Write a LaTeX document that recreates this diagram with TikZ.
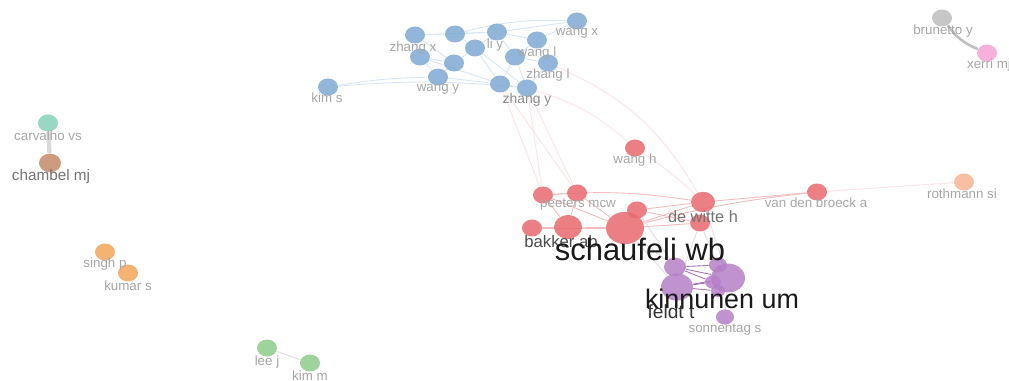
\documentclass[tikz,border=0pt]{standalone}
\usepackage{fontspec}
\setmainfont{Liberation Sans}
\usetikzlibrary{shapes.geometric}
\pgfdeclarelayer{edges}
\pgfsetlayers{edges,main}

\definecolor{cblue}{HTML}{7EA9D3}
\definecolor{cred}{HTML}{E8696E}
\definecolor{cpurple}{HTML}{B57FC8}
\definecolor{cteal}{HTML}{86D0B8}
\definecolor{cbrown}{HTML}{C48A68}
\definecolor{corange}{HTML}{F2A65A}
\definecolor{cpeach}{HTML}{F6B593}
\definecolor{cgreen}{HTML}{8DCB8A}
\definecolor{cgray}{HTML}{BDBDBD}
\definecolor{cpink}{HTML}{F3A2D6}
\definecolor{labgray}{HTML}{A6A6A6}

\tikzset{
  bub/.style 2 args={ellipse, fill=#1, fill opacity=.85, draw=none, inner sep=0,
    minimum width=#2*0.04cm, minimum height=#2*0.034cm},
  lab/.style={font=\fontsize{7.6}{8}\selectfont, text=labgray, inner sep=0},
  bedge/.style={draw=cblue!30, line width=.5pt},
  redge/.style={draw=cred!45, line width=.5pt},
  xedge/.style={draw=cred!16, line width=.6pt},
  pedge/.style={draw=cpurple!90!black, line width=.5pt},
  gedge/.style={draw=black!12, line width=.5pt}
}

\begin{document}
\begin{tikzpicture}[x=0.02cm, y=-0.02cm]
  \useasboundingbox (0,0) rectangle (1009,381);

  % blue cluster
  \node[bub={cblue}{10}] (zhangx) at (415,35) {};
  \node[bub={cblue}{10}] (b1) at (455,34) {};
  \node[bub={cblue}{10}] (liy) at (497,32) {};
  \node[bub={cblue}{10}] (wangx) at (577,21) {};
  \node[bub={cblue}{10}] (wangl) at (537,40) {};
  \node[bub={cblue}{10}] (b2) at (475,48) {};
  \node[bub={cblue}{10}] (b3) at (420,57) {};
  \node[bub={cblue}{10}] (b4) at (454,63) {};
  \node[bub={cblue}{10}] (b5) at (515,57) {};
  \node[bub={cblue}{10}] (zhangl) at (548,63) {};
  \node[bub={cblue}{10}] (wangy) at (438,77) {};
  \node[bub={cblue}{10}] (kims) at (328,87) {};
  \node[bub={cblue}{10}] (b6) at (500,84) {};
  \node[bub={cblue}{10}] (zhangy) at (527,88) {};

  % red cluster
  \node[bub={cred}{10}] (wangh) at (635,148) {};
  \node[bub={cred}{10}] (r1) at (543,195) {};
  \node[bub={cred}{10}] (peeters) at (577,193) {};
  \node[bub={cred}{10}] (r2) at (637,210) {};
  \node[bub={cred}{12}] (dewitte) at (703,202) {};
  \node[bub={cred}{10}] (r3) at (700,223) {};
  \node[bub={cred}{10}] (r4) at (532,228) {};
  \node[bub={cred}{14}] (bakker) at (568,227) {};
  \node[bub={cred}{19}] (schaufeli) at (625,228) {};
  \node[bub={cred}{10}] (vdbroeck) at (817,192) {};
  \node[bub={cpeach}{10}] (rothmann) at (964,182) {};

  % purple cluster
  \node[bub={cpurple}{11}] (p1) at (675,267) {};
  \node[bub={cpurple}{9}] (p2) at (718,265) {};
  \node[bub={cpurple}{17}] (kinnunen) at (728,278) {};
  \node[bub={cpurple}{16}] (feldt) at (677,287) {};
  \node[bub={cpurple}{8}] (p5) at (713,282) {};
  \node[bub={cpurple}{7}] (p6) at (718,291) {};
  \node[bub={cpurple}{9}] (sonnentag) at (725,317) {};

  % small pairs
  \node[bub={cteal}{10}] (carvalho) at (48,123) {};
  \node[bub={cbrown}{11}] (chambel) at (50,163) {};
  \node[bub={corange}{10}] (singh) at (105,252) {};
  \node[bub={corange}{10}] (kumar) at (128,273) {};
  \node[bub={cgreen}{10}] (leej) at (267,348) {};
  \node[bub={cgreen}{10}] (kimm) at (310,363) {};
  \node[bub={cgray}{10}] (brunetto) at (942,18) {};
  \node[bub={cpink}{10}] (xerri) at (987,53) {};

  \begin{pgfonlayer}{edges}
    % blue links
    \draw[bedge] (zhangx) -- (b1);
    \draw[bedge] (zhangx) -- (liy);
    \draw[bedge] (zhangx) -- (b3);
    \draw[bedge] (zhangx) -- (b4);
    \draw[bedge] (b1) -- (b2);
    \draw[bedge] (b1) -- (liy);
    \draw[bedge] (b1) to[bend left=8] (wangx);
    \draw[bedge] (liy) -- (wangl);
    \draw[bedge] (liy) -- (wangx);
    \draw[bedge] (liy) -- (b2);
    \draw[bedge] (liy) -- (b5);
    \draw[bedge] (b2) -- (b4);
    \draw[bedge] (b2) -- (b6);
    \draw[bedge] (b2) -- (zhangy);
    \draw[bedge] (b3) -- (b4);
    \draw[bedge] (b3) -- (wangy);
    \draw[bedge] (b3) -- (b6);
    \draw[bedge] (b4) -- (wangy);
    \draw[bedge] (b5) -- (wangl);
    \draw[bedge] (b5) -- (zhangl);
    \draw[bedge] (b5) -- (zhangy);
    \draw[bedge] (b5) -- (b6);
    \draw[bedge] (wangl) -- (zhangl);
    \draw[bedge] (wangl) -- (wangx);
    \draw[bedge] (zhangl) -- (zhangy);
    \draw[bedge] (b6) -- (zhangy);
    \draw[bedge] (wangy) -- (b6);
    \draw[bedge] (kims) to[bend left=4] (wangy);
    \draw[bedge] (kims) to[bend left=5] (zhangy);

    % blue to red
    \draw[xedge] (b6) -- (r1);
    \draw[xedge] (zhangy) -- (r1);
    \draw[xedge] (zhangy) -- (peeters);
    \draw[xedge] (b6) -- (peeters);
    \draw[xedge] (zhangy) to[bend left=12] (wangh);
    \draw[xedge] (zhangl) to[bend left=18] (dewitte);
    \draw[xedge] (wangh) to[bend left=5] (dewitte);

    % red links
    \draw[redge] (r1) -- (peeters);
    \draw[redge] (r1) -- (schaufeli);
    \draw[redge] (r1) -- (bakker);
    \draw[redge] (r1) to[bend left=6] (dewitte);
    \draw[redge] (peeters) -- (schaufeli);
    \draw[redge] (peeters) -- (bakker);
    \draw[redge] (r4) -- (bakker);
    \draw[redge] (r4) -- (schaufeli);
    \draw[redge] (bakker) -- (schaufeli);
    \draw[redge] (schaufeli) -- (r2);
    \draw[redge] (schaufeli) -- (dewitte);
    \draw[redge] (schaufeli) -- (r3);
    \draw[redge] (r2) -- (dewitte);
    \draw[redge] (r2) -- (r3);
    \draw[redge] (dewitte) -- (r3);
    \draw[redge] (dewitte) -- (vdbroeck);
    \draw[redge] (schaufeli) to[bend left=4] (vdbroeck);
    \draw[xedge] (vdbroeck) -- (rothmann);

    % red to purple
    \draw[gedge] (schaufeli) -- (p1);
    \draw[gedge] (schaufeli) -- (feldt);
    \draw[gedge] (r3) -- (p2);
    \draw[gedge] (dewitte) -- (kinnunen);
    \draw[gedge] (r2) -- (p1);
    \draw[gedge] (r3) -- (feldt);

    % purple links
    \draw[pedge] (p1) -- (p2);
    \draw[pedge] (p1) -- (kinnunen);
    \draw[pedge] (p1) -- (feldt);
    \draw[pedge] (p1) -- (p5);
    \draw[pedge] (p2) -- (kinnunen);
    \draw[pedge] (p2) -- (p5);
    \draw[pedge] (feldt) -- (kinnunen);
    \draw[pedge] (feldt) -- (p5);
    \draw[pedge] (feldt) -- (p6);
    \draw[pedge] (kinnunen) -- (p6);
    \draw[pedge] (p5) -- (p6);
    \draw[gedge] (kinnunen) -- (sonnentag);

    % pairs
    \draw[draw=black!15, line width=2.5pt] (carvalho) -- (chambel);
    \draw[draw=black!25, line width=1.5pt] (brunetto) to[bend right=15] (xerri);
    \draw[gedge] (leej) -- (kimm);
  \end{pgfonlayer}

  % labels
  \node[lab] (zhangx-l) at (413,48) {zhang x};
  \node[lab] (liy-l) at (495,45) {li y};
  \node[lab] (wangx-l) at (577,33) {wang x};
  \node[lab] (wangl-l) at (537,53) {wang l};
  \node[lab] (zhangl-l) at (548,75) {zhang l};
  \node[lab] (wangy-l) at (438,89) {wang y};
  \node[lab] (kims-l) at (327,98) {kim s};
  \node[lab, font=\fontsize{7.9}{8}\selectfont, text=black!45] (zhangy-l) at (527,100) {zhang y};
  \node[lab] (wangh-l) at (635,160) {wang h};
  \node[lab] (peeters-l) at (578,205) {peeters mcw};
  \node[lab] (vdbroeck-l) at (816,203) {van den broeck a};
  \node[lab] (rothmann-l) at (962,194) {rothmann si};
  \node[lab] (brunetto-l) at (943,31) {brunetto y};
  \node[lab] (xerri-l) at (989,65) {xerri mj};
  \node[lab] (carvalho-l) at (48,136) {carvalho vs};
  \node[lab] (singh-l) at (105,264) {singh p};
  \node[lab] (kumar-l) at (128,286) {kumar s};
  \node[lab] (leej-l) at (267,362) {lee j};
  \node[lab] (kimm-l) at (310,376) {kim m};
  \node[lab] (sonnentag-l) at (725,330) {sonnentag s};
  \node[lab, font=\fontsize{8.7}{9}\selectfont, text=black!55] (chambel-l) at (51,177) {chambel mj};
  \node[lab, font=\fontsize{9.3}{10}\selectfont, text=black!55] (dewitte-l) at (703,217) {de witte h};
  \node[lab, font=\fontsize{9.5}{10}\selectfont, text=black!70] (bakker-l) at (561,242) {bakker ab};
  \node[lab, font=\fontsize{17.6}{18}\selectfont, text=black!90] (schaufeli-l) at (640,249) {schaufeli wb};
  \node[lab, font=\fontsize{10.9}{11}\selectfont, text=black!80] (feldt-l) at (671,312) {feldt t};
  \node[lab, font=\fontsize{15.3}{16}\selectfont, text=black!90] (kinnunen-l) at (722,299) {kinnunen um};
\end{tikzpicture}
\end{document}
